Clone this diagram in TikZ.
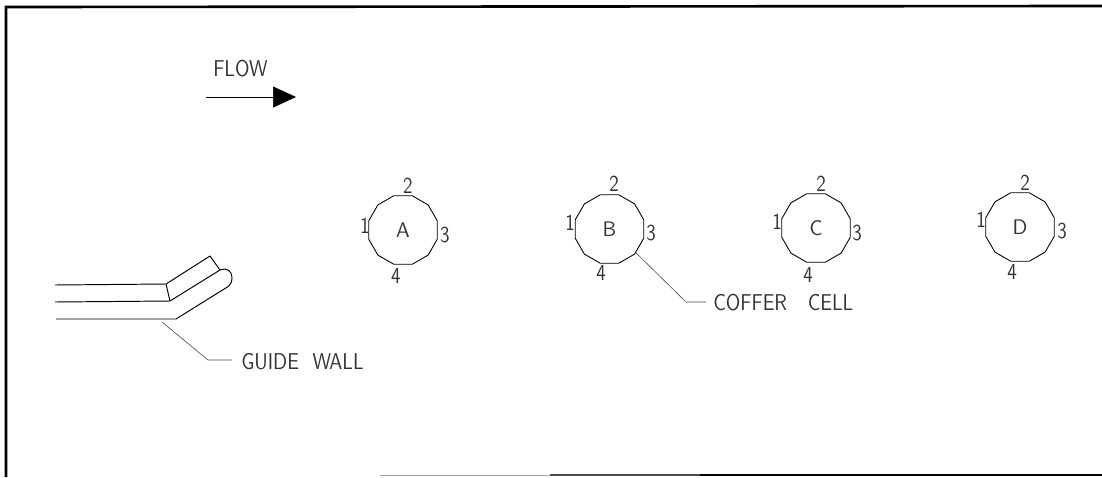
\documentclass[tikz,border=0pt]{standalone}
\usetikzlibrary{arrows.meta,shapes.geometric}
\tikzset{
	cell/.style={draw,regular polygon,regular polygon sides=12,minimum size=1.42cm,inner sep=0pt,line width=0.5pt,font=\sffamily\fontsize{12}{12}\selectfont,text=black!80},
	num/.style={font=\sffamily\fontsize{13}{13}\selectfont,inner sep=0pt,xscale=0.85,text=black!80},
	lbl/.style={font=\sffamily\fontsize{13}{13}\selectfont,anchor=west,inner sep=0pt,xscale=0.88,text=black!80},
	wall/.style={line width=0.55pt,line join=round},
	lead/.style={line width=0.35pt,draw=black!70},
	frame/.style={line width=1.5pt}
}
\begin{document}
\begin{tikzpicture}[x=0.02cm,y=-0.02cm]
	\useasboundingbox (0,0) rectangle (1102,477);
	% frame
	\coordinate (tl) at (6,7);
	\coordinate (tr) at (1102,6);
	\coordinate (bl) at (6,477);
	\draw[frame] (tr) -- (tl) -- (bl);
	\coordinate (b1) at (380,475);
	\coordinate (b2) at (550,475);
	\coordinate (b3) at (700,475);
	\coordinate (b4) at (1102,475);
	\draw[line width=0.5pt,black!35] (b1) -- (b2);
	\draw[line width=1pt,black!70] (b2) -- (b3);
	\draw[line width=1.5pt] (b3) -- (b4);
	% flow
	\node[lbl] (flow) at (213,69){FLOW};
	\coordinate (fa) at (206,97);
	\coordinate (fb) at (296,97);
	\draw[line width=0.4pt,-{Triangle[length=0.46cm,width=0.42cm]}] (fa) -- (fb);
	% guide wall
	\coordinate (w1) at (55,285);
	\coordinate (w2) at (166,284);
	\coordinate (w3) at (210,256);
	\coordinate (w4) at (220,270);
	\coordinate (w5) at (55,302);
	\coordinate (w6) at (170,301);
	\coordinate (w7) at (56,319);
	\coordinate (w8) at (176,319);
	\coordinate (w9) at (229,286);
	\draw[wall] (w1) -- (w2) -- (w3) -- (w4);
	\draw[wall] (w2) -- (w6);
	\draw[wall] (w5) -- (w6) -- (w4) .. controls (226,267) and (232,271) .. (232,277) .. controls (232,281) and (231,284) .. (w9) -- (w8) -- (w7);
	\node[lbl] (guide) at (241,362){GUIDE\hspace{0.35em} WALL};
	\coordinate (g1) at (162,322);
	\coordinate (g2) at (208,360);
	\coordinate (g3) at (232,360);
	\draw[lead] (g1) -- (g2) -- (g3);
	% cells
	\node[cell] (A) at (403,230){A};
	\node[cell] (B) at (609.5,229){B};
	\node[cell] (C) at (816,228){C};
	\node[cell] (D) at (1020,227){D};
	\draw node[num] at (365,226){1};
	\draw node[num] at (408,186){2};
	\draw node[num] at (445,235){3};
	\draw node[num] at (396,276){4};
	\draw node[num] at (570,223){1};
	\draw node[num] at (614,184){2};
	\draw node[num] at (651,233){3};
	\draw node[num] at (601,273){4};
	\draw node[num] at (777,222){1};
	\draw node[num] at (821,184){2};
	\draw node[num] at (857,233){3};
	\draw node[num] at (808,275){4};
	\draw node[num] at (981,220){1};
	\draw node[num] at (1025,183){2};
	\draw node[num] at (1062,231){3};
	\draw node[num] at (1012,272){4};
	% coffer cell
	\node[lbl] (coffer) at (713,303){COFFER\hspace{0.7em} CELL};
	\coordinate (c1) at (686,302);
	\coordinate (c2) at (706,302);
	\draw[lead] (B.-42) -- (c1) -- (c2);
\end{tikzpicture}
\end{document}
